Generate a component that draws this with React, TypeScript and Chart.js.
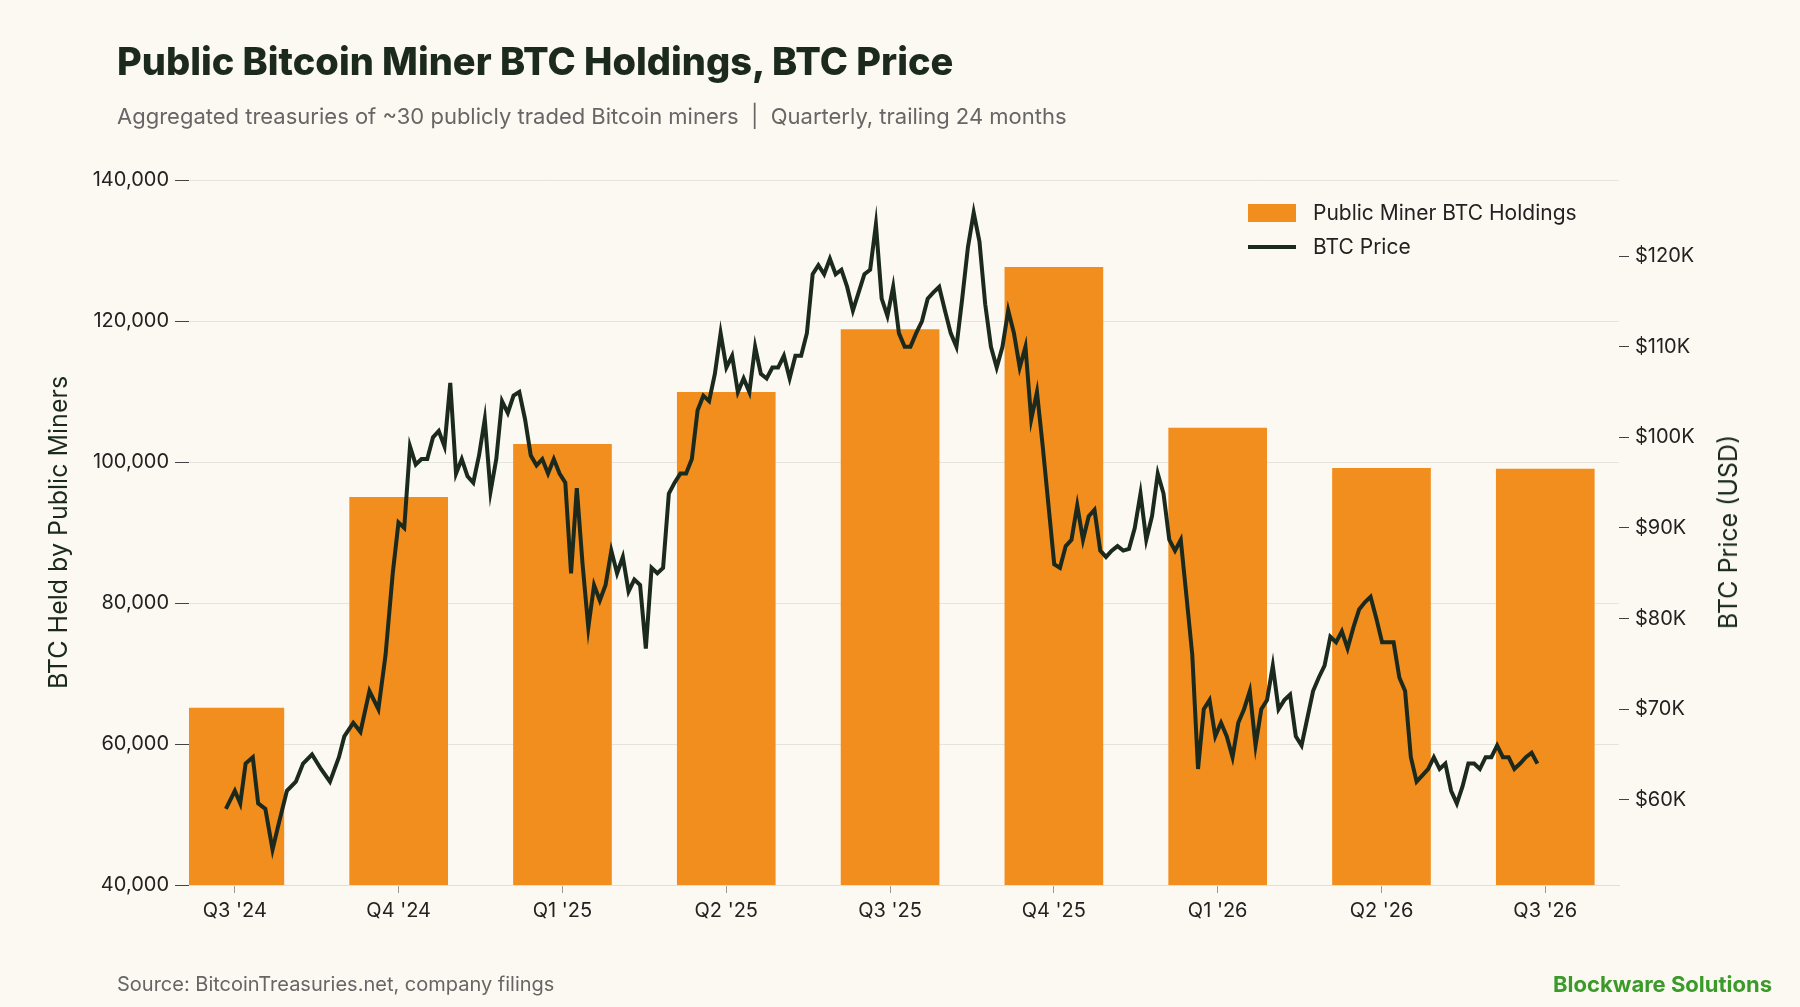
import React, { useEffect, useRef } from "react";
import { Chart, registerables } from "chart.js";
Chart.register(...registerables);

const quarters = ["Q3 '24", "Q4 '24", "Q1 '25", "Q2 '25", "Q3 '25", "Q4 '25", "Q1 '26", "Q2 '26", "Q3 '26"];
const holdings = [65100, 95000, 102500, 109900, 118800, 127600, 104800, 99100, 99000];

// BTC price in $K; early samples with explicit day offsets, rest evenly spaced to end day
const earlyDays = [-5, 0, 3, 6, 10, 13, 17, 21, 24, 29, 34, 38, 43, 48, 53, 58, 61, 66, 70, 75, 80, 84];
const earlyPrice = [59, 61, 59.6, 64, 64.7, 59.6, 59, 54.5, 57, 61, 62, 64, 65, 63.4, 62, 64.7, 67, 68.5, 67.5, 72, 70, 76];
const laterPrice = [
  85, 90.6, 90, 99, 97, 97.6, 97.6, 100, 100.7, 99, 106, 96, 97.6, 95.7, 95, 98, 102, 94, 97.6, 104, 102.7, 104.6, 105, 102,
  98, 96.9, 97.6, 96, 97.6, 96, 95, 85, 94.4, 86, 79, 83.7, 82, 83.7, 87.5, 85, 86.8, 83, 84.3, 83.7, 76.7, 85.6, 85, 85.6,
  93.8, 95, 96, 96, 97.6, 103, 104.6, 104, 107, 111.5, 107.7, 109, 105, 106.5, 105, 110, 107, 106.5, 107.7, 107.7, 109, 106.5,
  109, 109, 111.5, 118, 119, 118, 119.7, 118, 118.5, 116.6, 114, 116, 118, 118.5, 123.5, 115.3, 113.4, 116.6, 111.5, 110, 110,
  111.5, 112.8, 115.3, 116, 116.6, 114, 111.5, 110, 115.3, 121, 124.8, 121.6, 114.7, 110, 107.7, 110, 114, 111.5, 107.7, 110,
  102, 105, 99, 92.5, 86, 85.6, 88, 88.7, 92.5, 88.7, 91.3, 92, 87.5, 86.8, 87.5, 88, 87.5, 87.7, 90, 93.8, 88.7, 91.3, 96,
  93.8, 88.7, 87.5, 88.7, 82.4, 76, 63.4, 70, 71, 67, 68.5, 67, 64.7, 68.5, 70, 72, 66, 70, 71, 74.8, 70, 71, 71.6, 67, 66,
  69, 72, 73.5, 74.8, 78, 77.4, 78.6, 76.7, 79, 81, 81.8, 82.4, 80, 77.4, 77.4, 77.4, 73.5, 72, 64.7, 62, 62.7, 63.4, 64.7,
  63.4, 64, 61, 59.6, 61.5, 64, 64, 63.4, 64.7, 64.7, 66, 64.7, 64.7, 63.4, 64, 64.7, 65.2, 64,
];
const laterStartDay = 88;
const endDay = 726;
const daysPerQuarter = 91.3;

const FONT = "Inter, 'Noto Sans', sans-serif";
const ORANGE = "#f28e1e";
const DARK = "#1b2a1d";

export default function App() {
  const ref = useRef<HTMLCanvasElement>(null);
  useEffect(() => {
    const pts: { x: number; y: number }[] = [];
    earlyDays.forEach((d, i) => pts.push({ x: d / daysPerQuarter, y: earlyPrice[i] * 1000 }));
    const n = laterPrice.length;
    laterPrice.forEach((p, i) => {
      const d = laterStartDay + ((endDay - laterStartDay) * i) / (n - 1);
      pts.push({ x: d / daysPerQuarter, y: p * 1000 });
    });
    const chart = new Chart(ref.current!, {
      data: {
        datasets: [
          {
            type: "line",
            label: "BTC Price",
            data: pts,
            yAxisID: "y2",
            borderColor: DARK,
            borderWidth: 4,
            pointRadius: 0,
            tension: 0,
          } as any,
          {
            type: "bar",
            label: "Public Miner BTC Holdings",
            data: holdings.map((v, i) => ({ x: i, y: v })),
            yAxisID: "y",
            backgroundColor: ORANGE,
            barThickness: 98,
          } as any,
        ],
      },
      options: {
        animation: false,
        responsive: false,
        layout: { padding: { left: 40, right: 61, top: 180, bottom: 60 } },
        plugins: { legend: { display: false }, tooltip: { enabled: false } },
        scales: {
          x: {
            type: "linear",
            offset: false,
            min: -0.28,
            max: 8.45,
            afterBuildTicks: (a: any) => { a.ticks = quarters.map((_, i) => ({ value: i })); },
            ticks: { callback: (v: any) => quarters[v] ?? "", color: "#222", font: { family: FONT, size: 20 }, padding: 6 },
            grid: { display: true, offset: false, drawOnChartArea: false, color: "#999", tickLength: 8 },
            border: { color: "#e2e0d6" },
            afterFit: (a: any) => { a.height = 62; },
          },
          y: {
            position: "left",
            min: 40000,
            max: 140000,
            ticks: { stepSize: 20000, color: "#222", font: { family: FONT, size: 20 }, padding: 6, callback: (v: any) => Number(v).toLocaleString("en-US") },
            grid: { color: "#e4e4da", tickLength: 14, tickColor: "#444" },
            border: { display: false },
            title: { display: true, text: "BTC Held by Public Miners", color: DARK, font: { family: FONT, size: 25 } },
            afterFit: (a: any) => { a.width = 149; },
          },
          y2: {
            position: "right",
            min: 50600,
            max: 128400,
            afterBuildTicks: (a: any) => { a.ticks = [60, 70, 80, 90, 100, 110, 120].map((v) => ({ value: v * 1000 })); },
            ticks: { color: "#222", font: { family: FONT, size: 20 }, padding: 6, callback: (v: any) => "$" + Math.round(v / 1000) + "K" },
            grid: { drawOnChartArea: false, tickLength: 10, color: "#444" },
            border: { display: false },
            afterFit: (a: any) => { a.width = 120; },
          },
        },
      },
    });
    return () => chart.destroy();
  }, []);

  return (
    <div style={{ position: "fixed", inset: 0, background: "#fbf9f1", fontFamily: FONT, overflow: "hidden" }}>
      <canvas ref={ref} width={1800} height={1007} style={{ position: "absolute", left: 0, top: 0, width: 1800, height: 1007 }} />
      <div style={{ position: "absolute", left: 117, top: 38, fontSize: 38, fontWeight: 800, color: DARK }}>
        Public Bitcoin Miner BTC Holdings, BTC Price
      </div>
      <div style={{ position: "absolute", left: 117, top: 103, fontSize: 22, color: "#666" }}>
        Aggregated treasuries of ~30 publicly traded Bitcoin miners&nbsp; | &nbsp;Quarterly, trailing 24 months
      </div>
      <div style={{ position: "absolute", left: 1728, top: 532, transform: "translate(-50%, -50%) rotate(-90deg)", whiteSpace: "nowrap", fontSize: 25, color: DARK }}>
        BTC Price (USD)
      </div>
      <div style={{ position: "absolute", left: 1248, top: 196, fontSize: 21, color: "#222", lineHeight: "34px" }}>
        <div style={{ display: "flex", alignItems: "center" }}>
          <span style={{ width: 48, height: 18, background: ORANGE, marginRight: 17, display: "inline-block" }} />
          Public Miner BTC Holdings
        </div>
        <div style={{ display: "flex", alignItems: "center" }}>
          <span style={{ width: 48, height: 4, background: DARK, marginRight: 17, display: "inline-block" }} />
          BTC Price
        </div>
      </div>
      <div style={{ position: "absolute", left: 117, top: 972, fontSize: 20, color: "#666" }}>
        Source: BitcoinTreasuries.net, company filings
      </div>
      <div style={{ position: "absolute", right: 28, top: 971, fontSize: 22, fontWeight: 700, color: "#3a9a2a" }}>
        Blockware Solutions
      </div>
    </div>
  );
}
